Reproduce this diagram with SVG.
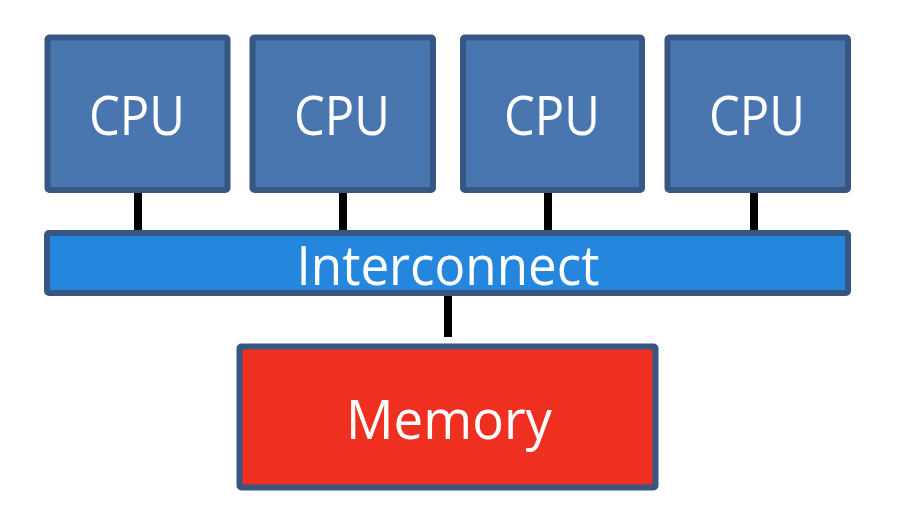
<svg xmlns="http://www.w3.org/2000/svg" width="898" height="514" viewBox="0 0 898 514">
<style>
.cpu{fill:#4A76AF;stroke:#375682;stroke-width:6}
.bus{fill:#2586DD;stroke:#375682;stroke-width:6}
.mem{fill:#EF2F1F;stroke:#375682;stroke-width:6}
.lbl{font-family:"Open Sans","Noto Sans",sans-serif;font-size:54px;fill:#FFFFFF;text-anchor:middle}
.wire{stroke:#000000;stroke-width:8;fill:none}
</style>
<rect width="898" height="514" fill="#FFFFFF"/>
<g id="connectors">
<line class="wire" x1="138" y1="190" x2="138" y2="234"/>
<line class="wire" x1="343" y1="190" x2="343" y2="234"/>
<line class="wire" x1="548" y1="190" x2="548" y2="234"/>
<line class="wire" x1="754" y1="190" x2="754" y2="234"/>
<line class="wire" x1="448" y1="292" x2="448" y2="337"/>
</g>
<g id="cpu1"><rect class="cpu" x="47.5" y="37.5" width="180" height="152.5" rx="2"/><text class="lbl" x="137" y="135" textLength="96" lengthAdjust="spacingAndGlyphs">CPU</text></g>
<g id="cpu2"><rect class="cpu" x="252.5" y="37.5" width="180.5" height="152.5" rx="2"/><text class="lbl" x="342" y="135" textLength="96" lengthAdjust="spacingAndGlyphs">CPU</text></g>
<g id="cpu3"><rect class="cpu" x="463" y="37.5" width="179" height="152.5" rx="2"/><text class="lbl" x="552" y="135" textLength="96" lengthAdjust="spacingAndGlyphs">CPU</text></g>
<g id="cpu4"><rect class="cpu" x="667.5" y="37.5" width="180.5" height="152.5" rx="2"/><text class="lbl" x="757" y="135" textLength="96" lengthAdjust="spacingAndGlyphs">CPU</text></g>
<g id="interconnect"><rect class="bus" x="47" y="233" width="801" height="60" rx="2"/><text class="lbl" x="448" y="285" textLength="303" lengthAdjust="spacingAndGlyphs">Interconnect</text></g>
<g id="memory"><rect class="mem" x="239.5" y="346.5" width="416" height="141" rx="2"/><text class="lbl" x="449" y="438.5" textLength="206" lengthAdjust="spacingAndGlyphs">Memory</text></g>
</svg>
